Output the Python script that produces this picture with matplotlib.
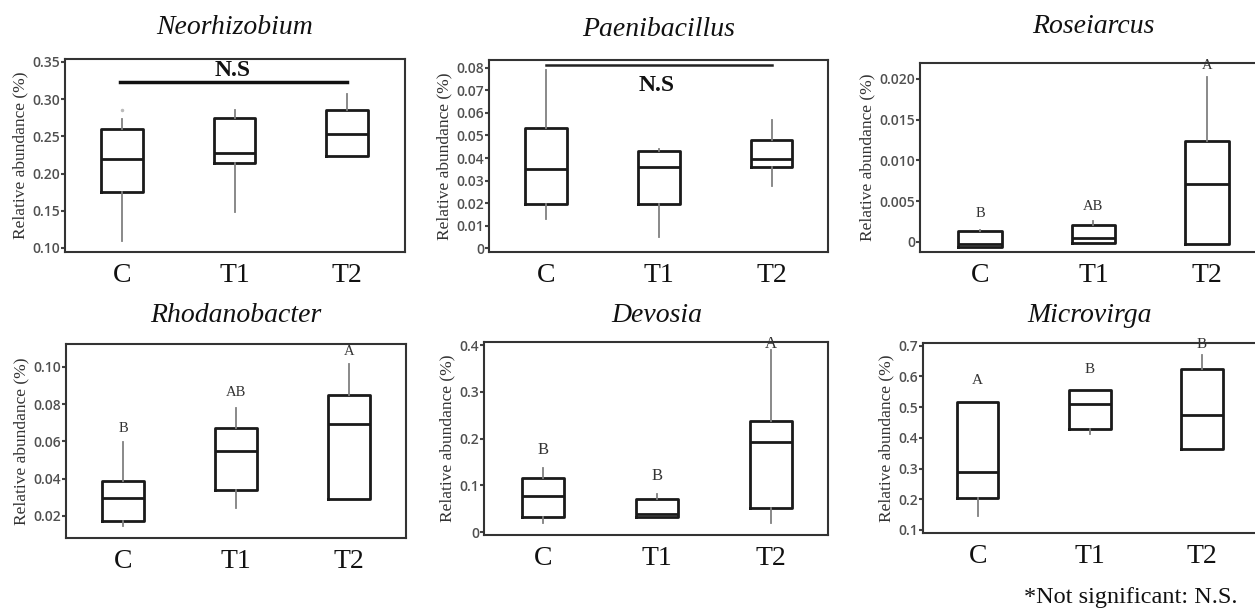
import numpy as np
import matplotlib
matplotlib.use("Agg")
import matplotlib.pyplot as plt
import matplotlib.transforms as mtransforms

W, H = 1255, 611
groups = ["C", "T1", "T2"]

# genus names
genera = ["Neorhizobium", "Paenibacillus", "Roseiarcus",
          "Rhodanobacter", "Devosia", "Microvirga"]

# box stats per genus: whisker low, q1, median, q3, whisker high (C, T1, T2)
neo_lo = [0.110, 0.148, 0.224]
neo_q1 = [0.175, 0.214, 0.224]
neo_med = [0.220, 0.228, 0.253]
neo_q3 = [0.260, 0.275, 0.285]
neo_hi = [0.273, 0.285, 0.307]

pae_lo = [0.013, 0.005, 0.0275]
pae_q1 = [0.0195, 0.0195, 0.036]
pae_med = [0.035, 0.036, 0.0395]
pae_q3 = [0.0535, 0.043, 0.048]
pae_hi = [0.079, 0.044, 0.057]

ros_lo = [-0.0006, -0.0001, -0.0003]
ros_q1 = [-0.0006, -0.0001, -0.0003]
ros_med = [-0.0002, 0.0005, 0.0071]
ros_q3 = [0.0013, 0.0021, 0.0124]
ros_hi = [0.0015, 0.0026, 0.0202]

rho_lo = [0.0145, 0.0245, 0.029]
rho_q1 = [0.0175, 0.034, 0.029]
rho_med = [0.0295, 0.055, 0.0695]
rho_q3 = [0.039, 0.067, 0.085]
rho_hi = [0.0595, 0.078, 0.1015]

dev_lo = [0.020, 0.033, 0.020]
dev_q1 = [0.033, 0.033, 0.052]
dev_med = [0.078, 0.040, 0.192]
dev_q3 = [0.115, 0.072, 0.238]
dev_hi = [0.137, 0.082, 0.390]

mic_lo = [0.145, 0.413, 0.365]
mic_q1 = [0.205, 0.430, 0.365]
mic_med = [0.288, 0.510, 0.473]
mic_q3 = [0.518, 0.555, 0.625]
mic_hi = [0.518, 0.555, 0.670]

# outlier dot in Neorhizobium C
neo_fliers = [[0.285], [], []]

# significance letters and their heights
ros_letters = ["B", "AB", "A"]
ros_letter_y = [0.0027, 0.0035, 0.0208]
rho_letters = ["B", "AB", "A"]
rho_letter_y = [0.0634, 0.0826, 0.1045]
dev_letters = ["B", "B", "A"]
dev_letter_y = [0.158, 0.1025, 0.385]
mic_letters = ["A", "B", "B"]
mic_letter_y = [0.565, 0.600, 0.684]

# y ticks
neo_ticks = [0.10, 0.15, 0.20, 0.25, 0.30, 0.35]
neo_tlabels = ["0.10", "0.15", "0.20", "0.25", "0.30", "0.35"]
pae_ticks = [0, 0.01, 0.02, 0.03, 0.04, 0.05, 0.06, 0.07, 0.08]
pae_tlabels = ["0", "0.01", "0.02", "0.03", "0.04", "0.05", "0.06", "0.07", "0.08"]
ros_ticks = [0, 0.005, 0.010, 0.015, 0.020]
ros_tlabels = ["0", "0.005", "0.010", "0.015", "0.020"]
rho_ticks = [0.02, 0.04, 0.06, 0.08, 0.10]
rho_tlabels = ["0.02", "0.04", "0.06", "0.08", "0.10"]
dev_ticks = [0, 0.1, 0.2, 0.3, 0.4]
dev_tlabels = ["0", "0.1", "0.2", "0.3", "0.4"]
mic_ticks = [0.1, 0.2, 0.3, 0.4, 0.5, 0.6, 0.7]
mic_tlabels = ["0.1", "0.2", "0.3", "0.4", "0.5", "0.6", "0.7"]

SERIF = "Liberation Serif"
fig = plt.figure(figsize=(W / 100, H / 100), dpi=100)


def px_axes(l, t, r, b):
    return fig.add_axes([l / W, 1 - b / H, (r - l) / W, (b - t) / H])


def panel(rect, xlim, ylim, lo, q1, med, q3, hi, ticks, tlabels, title,
          fliers=None, width=0.37):
    ax = px_axes(*rect)
    stats = []
    for i in range(3):
        stats.append({"whislo": lo[i], "q1": q1[i], "med": med[i],
                      "q3": q3[i], "whishi": hi[i],
                      "fliers": fliers[i] if fliers else []})
    ax.bxp(stats, positions=[1, 2, 3], widths=width, showcaps=False,
           boxprops=dict(color="#1a1a1a", lw=2.0),
           medianprops=dict(color="#1a1a1a", lw=2.0),
           whiskerprops=dict(color="#808080", lw=1.3),
           flierprops=dict(marker="o", markersize=1.5, markerfacecolor="#bbbbbb",
                           markeredgecolor="#bbbbbb"),
           zorder=3)
    ax.set_xlim(*xlim)
    ax.set_ylim(*ylim)
    ax.set_xticks([1, 2, 3])
    ax.set_xticklabels(groups, fontfamily=SERIF, fontsize=20, color="#111111")
    ax.tick_params(axis="x", length=0, pad=8)
    ax.set_yticks(ticks)
    ax.set_yticklabels(tlabels, fontfamily="Open Sans", fontsize=10,
                       color="#505050", fontweight="semibold")
    ax.tick_params(axis="y", length=3, width=1.5, color="#444444", pad=0.5)
    for s in ax.spines.values():
        s.set_color("#333333")
        s.set_linewidth(1.5)
    ax.set_ylabel("Relative abundance (%)", fontfamily=SERIF, fontsize=12.5,
                  color="#333333", labelpad=3)
    trans = mtransforms.blended_transform_factory(ax.transData, ax.transAxes)
    ax.text(2, 1.0, title, transform=trans, ha="center", va="center",
            fontfamily=SERIF, fontstyle="italic", fontsize=20, color="#111111")
    return ax


def letters(ax, labs, ys, size):
    for i in range(3):
        ax.text(i + 1, ys[i], labs[i], ha="center", va="bottom",
                fontfamily=SERIF, fontsize=size, color="#333333", zorder=4)


ax1 = panel((65, 59, 405, 252), (0.493, 3.515), (0.0946, 0.354),
            neo_lo, neo_q1, neo_med, neo_q3, neo_hi, neo_ticks, neo_tlabels,
            genera[0], fliers=neo_fliers)
ax1.texts[-1].set_y(1.0 + 32 / 193)
ax1.plot([0.98, 3.0], [0.3235, 0.3235], color="#111111", lw=2.5)
ax1.text(1.98, 0.3245, "N.S", ha="center", va="bottom", fontfamily=SERIF,
         fontweight="bold", fontsize=17, color="#111111")

ax2 = panel((489, 60, 828, 252), (0.496, 3.50), (-0.0016, 0.0834),
            pae_lo, pae_q1, pae_med, pae_q3, pae_hi, pae_ticks, pae_tlabels,
            genera[1])
ax2.texts[-1].set_y(1.0 + 31 / 192)
ax2.plot([1.0, 3.0], [0.0812, 0.0812], color="#222222", lw=1.8)
ax2.text(1.98, 0.0723, "N.S", ha="center", va="center", fontfamily=SERIF,
         fontweight="bold", fontsize=17, color="#111111")

ax3 = panel((920, 62.7, 1262, 252), (0.471, 3.485), (-0.00123, 0.02196),
            ros_lo, ros_q1, ros_med, ros_q3, ros_hi, ros_ticks, ros_tlabels,
            genera[2], width=0.38)
ax3.texts[-1].set_y(1.0 + 36 / 189)
letters(ax3, ros_letters, ros_letter_y, 10.5)

ax4 = panel((66, 344.3, 406, 537.7), (0.493, 3.504), (0.00836, 0.112),
            rho_lo, rho_q1, rho_med, rho_q3, rho_hi, rho_ticks, rho_tlabels,
            genera[3])
ax4.texts[-1].set_y(1.0 + 29 / 193)
letters(ax4, rho_letters, rho_letter_y, 10.5)

ax5 = panel((484, 342.3, 828, 535), (0.485, 3.497), (-0.0058, 0.4058),
            dev_lo, dev_q1, dev_med, dev_q3, dev_hi, dev_ticks, dev_tlabels,
            genera[4])
ax5.texts[-1].set_y(1.0 + 27 / 193)
letters(ax5, dev_letters, dev_letter_y, 12)

ax6 = panel((922.7, 343.3, 1262, 533.3), (0.509, 3.536), (0.089, 0.708),
            mic_lo, mic_q1, mic_med, mic_q3, mic_hi, mic_ticks, mic_tlabels,
            genera[5])
ax6.texts[-1].set_y(1.0 + 28 / 190)
letters(ax6, mic_letters, mic_letter_y, 11)

fig.text(1238 / W, 1 - 598 / H, "*Not significant: N.S.", ha="right",
         va="center", fontfamily=SERIF, fontsize=17.5, color="#111111")

fig.savefig("out.png", dpi=100)
